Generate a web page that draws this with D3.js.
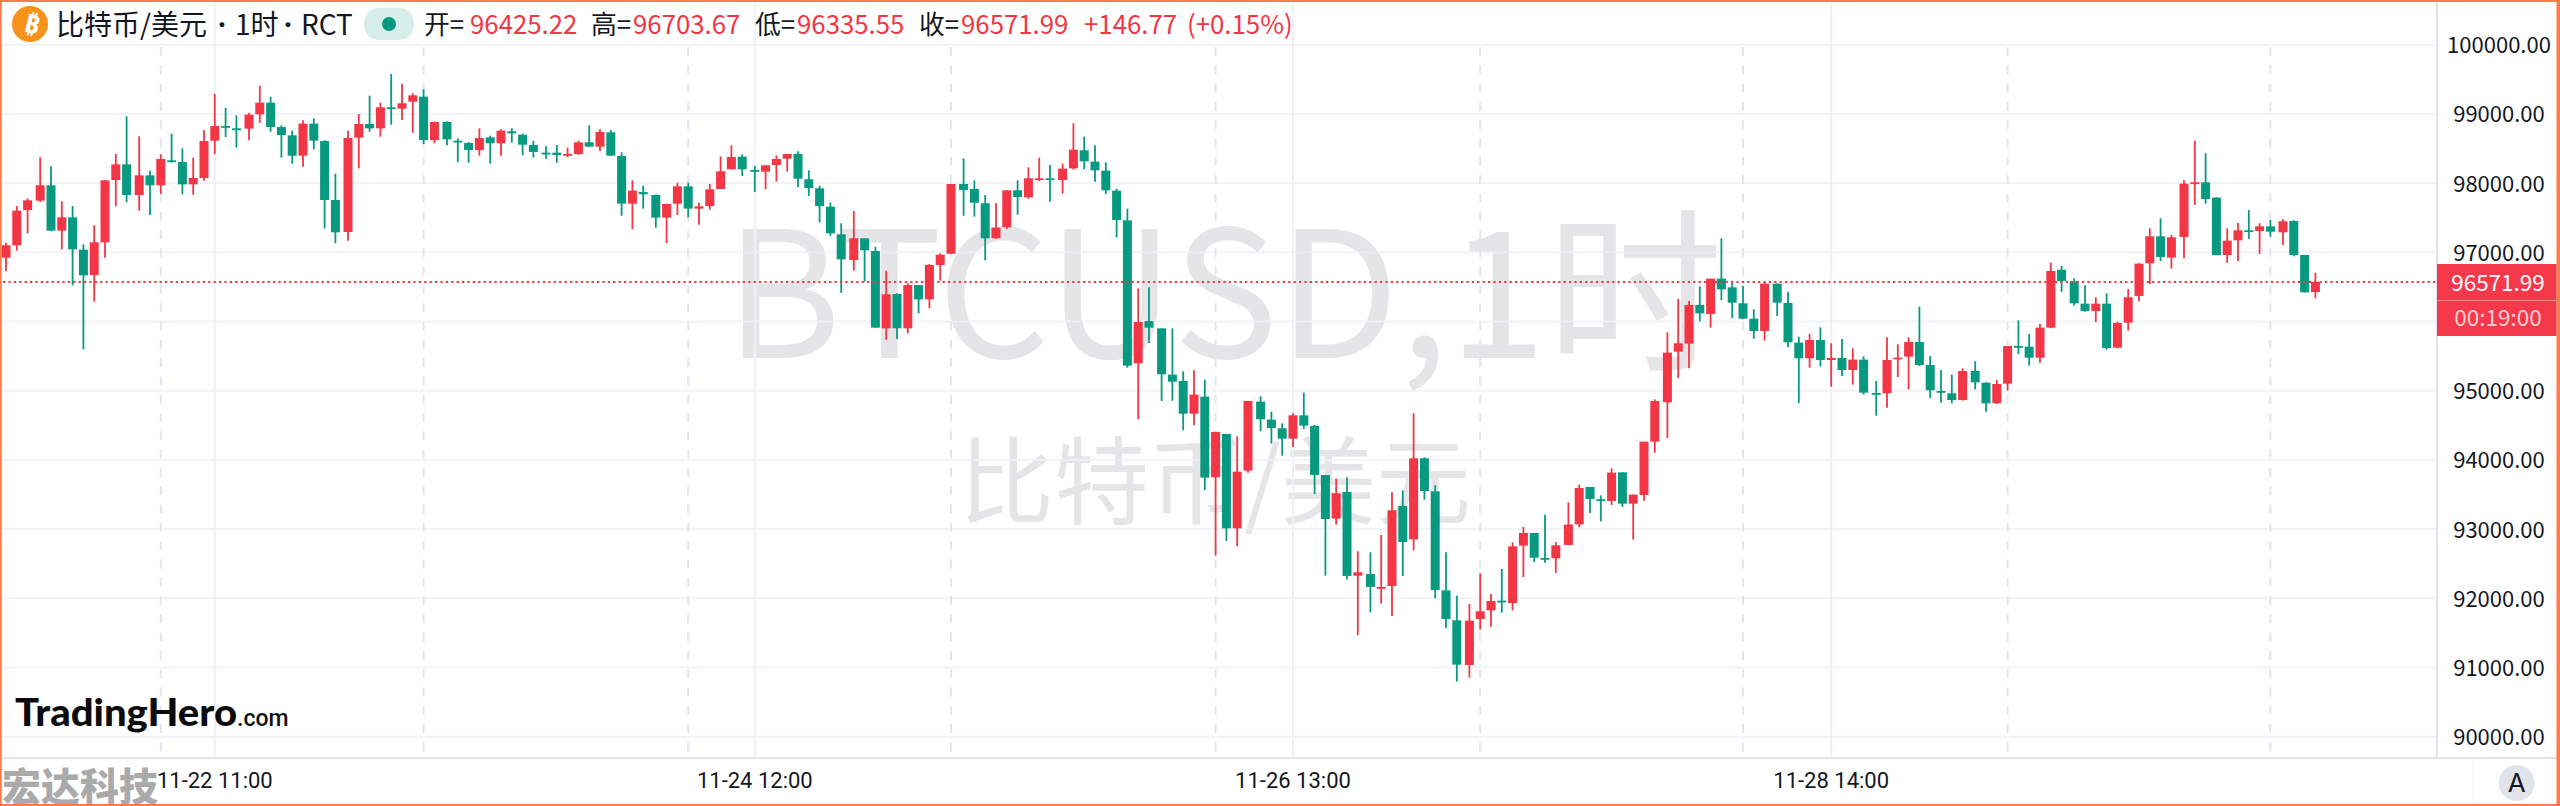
<!DOCTYPE html>
<html><head><meta charset="utf-8">
<script src="https://cdn.jsdelivr.net/npm/d3@7/dist/d3.min.js"></script>
<style>
html,body{margin:0;padding:0;background:#fff;overflow:hidden}
svg{display:block}
text{font-family:"Noto Sans CJK SC","Noto Sans",sans-serif}
</style></head><body><svg id="c" width="2560" height="806"></svg>
<script>
const opens=[96922,97101,97611,97746,97968,97313,97505,97038,96672,97144,
98045,98271,97828,98112,97968,98329,98305,97982,98074,98613,
98825,98791,98787,98994,99162,98811,98690,98396,98859,98608,
97756,97293,98657,98854,98791,99095,99076,99177,99249,98623,
98883,98613,98580,98478,98661,98575,98748,98700,98551,98440,
98440,98397,98421,98589,98527,98734,98392,97703,97871,97828,
97501,97703,97953,97631,97669,97915,98199,98382,98189,98165,
98262,98353,98421,98055,97924,97660,97260,96889,97202,97019,
95901,96397,95901,96527,96320,96817,96980,97987,97915,97708,
97202,97361,97896,97794,98050,98069,98045,98213,98474,98310,
98180,97891,97462,95396,96007,95901,95232,95141,94668,94914,
93748,94375,93011,93845,94842,94582,94457,94307,94644,94490,
93782,93151,93536,92327,92351,92144,92178,93334,92852,94023,
93546,92115,91682,91036,91701,91826,91966,91932,92761,92944,
92583,92578,92771,93069,93609,93431,93406,93820,93368,93493,
94264,94832,95564,95680,96239,96109,96619,96494,96263,96041,
95863,96547,96268,95694,95468,95733,95444,95473,95299,95449,
94967,94962,95453,95492,95704,95372,94996,94962,94866,95285,
95116,94818,95102,95646,95636,95477,95911,96749,96581,96258,
96152,96258,95622,95983,96369,96841,97231,96923,97221,97997,
98011,97790,96961,97173,97318,97308,97375,97289,97452,96961,96425.22];
const closes=[97101,97602,97751,97968,97313,97505,97043,96667,97144,98040,
98271,97828,98112,97968,98348,98310,97982,98074,98608,98825,
98801,98772,98989,99162,98811,98695,98396,98859,98613,97756,
97289,98652,98854,98791,99095,99076,99153,99268,98623,98883,
98632,98589,98478,98652,98575,98758,98719,98555,98450,98421,
98406,98421,98589,98527,98739,98397,97703,97891,97838,97501,
97698,97953,97631,97664,97910,98170,98377,98199,98165,98257,
98348,98421,98064,97929,97669,97274,96898,97202,97029,95911,
96393,95901,96527,96320,96817,96966,97987,97900,97717,97202,
97356,97896,97799,98069,98069,98045,98209,98483,98315,98185,
97896,97467,95362,95993,95911,95237,95131,94668,94943,93744,
94404,93011,93830,94852,94587,94461,94307,94644,94495,93782,
93146,93517,92323,92376,92164,92164,93272,92814,94023,93551,
92120,91701,91041,91677,91812,91961,91947,92751,92944,92587,
92563,92766,93065,93594,93435,93407,93816,93368,93498,94264,
94851,95550,95685,96239,96118,96619,96465,96272,96041,95863,
96547,96272,95699,95468,95733,95444,95473,95299,95449,94972,
94948,95444,95478,95704,95372,95006,94977,94866,95285,95121,
94818,95097,95646,95627,95477,95911,96730,96585,96263,96152,
96258,95617,95978,96349,96836,97231,96932,97216,97992,98011,
97770,96961,97168,97318,97298,97375,97298,97448,96961,96422,96571.99];
const highs=[97139,97669,97780,98372,98242,97737,97669,97115,97390,98040,
98421,98965,98676,98180,98416,98714,98502,98368,98763,99288,
99090,98979,99018,99408,99249,98835,98758,98907,98936,98618,
98136,98758,98999,99264,99162,99577,99437,99297,99355,98888,
98893,98647,98594,98791,98685,98777,98792,98714,98613,98531,
98551,98512,98613,98835,98777,98767,98445,98040,97963,97833,
97703,98006,98006,97717,97987,98387,98546,98416,98247,98257,
98401,98421,98459,98185,97963,97722,97419,97597,97202,97081,
96735,96407,96552,96527,96831,96985,97987,98358,98040,97828,
97708,97896,98040,98228,98368,98262,98281,98864,98671,98546,
98300,97920,97631,96479,96494,95901,95901,95280,95295,95160,
94408,94375,94341,94852,94919,94697,94529,94673,94972,94505,
93782,93729,93748,92679,92665,92915,93532,93561,94673,94037,
93633,92665,92038,91918,92361,92062,92424,92809,93031,92944,
93209,92814,93387,93643,93609,93488,93878,93820,93498,94264,
94875,95844,96325,96296,96508,96619,97202,96585,96513,96176,
96576,96552,96431,95781,95824,95916,95685,95747,95612,95497,
95140,95771,95670,95771,96215,95502,95299,95232,95323,95425,
95121,95155,95646,96017,95819,95964,96850,96802,96624,96523,
96349,96407,95998,96470,96841,97346,97491,97250,98040,98613,
98430,97799,97346,97424,97611,97419,97467,97477,97462,96961,96703.67];
const lows=[96725,97024,97274,97727,97303,97043,96523,95598,96287,96922,
97664,97722,97602,97539,97843,98300,97838,97833,98035,98421,
98666,98512,98618,98869,98743,98368,98281,98237,98488,97346,
97130,97168,98213,98743,98671,98844,98912,98729,98565,98575,
98546,98305,98295,98396,98281,98397,98584,98401,98368,98353,
98295,98372,98406,98527,98459,98397,97529,97332,97631,97356,
97134,97539,97505,97399,97616,97915,98199,98103,97871,97910,
98021,98165,97939,97814,97433,97236,96412,96735,96576,95911,
95738,95747,95829,96118,96190,96590,96980,97529,97515,96884,
97197,97337,97544,97775,98030,97732,97847,98194,98199,98021,
97843,97216,95333,94587,95689,94852,94856,94428,94500,93565,
92616,92828,92751,93816,94413,94235,94062,94187,94447,93508,
92327,93064,92270,91470,91798,91923,91745,92323,92693,93426,
92000,91566,90796,90853,91547,91590,91793,91826,92308,92525,
92515,92366,92771,93026,93233,93113,93348,93320,92848,93411,
94105,94317,95184,95323,96003,95911,96311,96051,96032,95752,
95723,96080,95627,94822,95333,95352,95058,95213,95087,94943,
94639,94755,95198,95020,95357,94895,94827,94818,94856,95020,
94697,94808,95001,95530,95362,95405,95901,96431,96229,96142,
95993,95593,95612,95868,96292,96542,96874,96764,96913,97684,
97703,96956,96850,96874,97192,96976,97226,97106,96942,96417,96335.55];

const priceTicks=[90000,91000,92000,93000,94000,95000,96000,97000,98000,99000,100000];
const timeTickIdx=[19,68,117,166];
const timeTickLabels=["11-22 11:00","11-24 12:00","11-26 13:00","11-28 14:00"];
const dayLineIdx=[14,38,62,86,110,134,158,182,206];
const lastPrice=96571.99, countdown="00:19:00";
const titleParts=[["比特币/美元",56],["·",218],["1时",235],["·",284],["RCT",301]];
const legend=[["开=","96425.22",424,471],["高=","96703.67",591,634],["低=","96335.55",755,798],["收=","96571.99",919,962]];

const UP="#F23645",DOWN="#089981",GRID="#eff1f8",AXIS="#e0e3eb",BORDER="#FF7A4D";
const W=2560,H=806,axisX=2437,axisY=758;
const y=d3.scaleLinear().domain([90000,100000]).range([736.7,44.7]);
// the source was rendered on a coarse pixel grid, then enlarged 1.8x
const xGrid=d3.scaleLinear().domain([0,1]).range([0.71,6.818]);
const x=i=>6+1.8*Math.floor(xGrid(i));
const svg=d3.select("#c");
svg.append("rect").attr("width",W).attr("height",H).attr("fill","#fff");

// watermark
const wm=svg.append("g").attr("fill","#e5e5e8");
wm.append("text").attr("x",1224).attr("y",358).attr("text-anchor","middle")
  .attr("font-size",176.5).style("font-family",'"Noto Sans CJK SC"').attr("font-weight",400).text("BTCUSD,1时");
wm.append("text").attr("x",1215).attr("y",517).attr("text-anchor","middle")
  .attr("font-size",95).style("font-family",'"Noto Sans CJK SC"').attr("font-weight",400).text("比特币/美元");

// grid
const grid=svg.append("g");
grid.selectAll("line.h").data(priceTicks).join("line").attr("class","h")
  .attr("x1",2).attr("x2",axisX).attr("y1",d=>y(d)).attr("y2",d=>y(d))
  .attr("stroke",GRID).attr("stroke-width",2).attr("opacity",.85);
grid.selectAll("line.v").data(timeTickIdx).join("line").attr("class","v")
  .attr("x1",x).attr("x2",x).attr("y1",2).attr("y2",axisY)
  .attr("stroke",GRID).attr("stroke-width",2);
grid.selectAll("line.d").data(dayLineIdx).join("line").attr("class","d")
  .attr("x1",x).attr("x2",x).attr("y1",47).attr("y2",axisY)
  .attr("stroke","#e2e5ee").attr("stroke-width",2).attr("stroke-dasharray","9 9.3");

// candles
const idx=d3.range(opens.length);
const colour=i=>closes[i]>=opens[i]?UP:DOWN;
const c=svg.append("g");
c.selectAll("line").data(idx).join("line")
  .attr("x1",x).attr("x2",x).attr("y1",i=>y(highs[i])).attr("y2",i=>y(lows[i]))
  .attr("stroke",colour).attr("stroke-width",1.8);
c.selectAll("rect").data(idx).join("rect")
  .attr("x",i=>x(i)-4.5).attr("width",9)
  .attr("y",i=>y(Math.max(opens[i],closes[i])))
  .attr("height",i=>Math.max(1.8,Math.abs(y(opens[i])-y(closes[i]))))
  .attr("fill",colour);

// last price line
svg.append("line").attr("x1",3).attr("x2",axisX).attr("y1",y(lastPrice)).attr("y2",y(lastPrice))
  .attr("stroke",UP).attr("stroke-width",2).attr("stroke-dasharray","2.2 3.2");

// axes
svg.append("rect").attr("x",axisX+1).attr("y",2).attr("width",W-axisX-1).attr("height",H-2).attr("fill","#fff");
svg.append("rect").attr("x",2).attr("y",axisY).attr("width",W).attr("height",H-axisY).attr("fill","#fff");
const yAxis=svg.append("g").attr("transform",`translate(2499,1)`)
  .call(d3.axisRight(y).tickValues(priceTicks).tickSize(0).tickFormat(d=>d.toFixed(2)));
yAxis.select(".domain").remove();
yAxis.selectAll("text").attr("x",0).attr("text-anchor","middle").attr("font-size",22).attr("fill","#131722")
  .style("font-family",'"Noto Sans CJK SC"');
const xAxis=svg.append("g").attr("transform",`translate(0,${axisY})`)
  .call(d3.axisBottom(d3.scaleLinear().domain([0,1]).range([x(0),x(1)])).tickValues(timeTickIdx).tickSize(0)
    .tickFormat((d,i)=>timeTickLabels[i]));
xAxis.select(".domain").remove();
xAxis.selectAll("g.tick").attr("transform",d=>`translate(${x(d)},0)`);
xAxis.selectAll("text").attr("y",14).attr("font-size",22).attr("fill","#131722").style("font-family","Roboto");
svg.append("line").attr("x1",axisX).attr("x2",axisX).attr("y1",2).attr("y2",axisY).attr("stroke",AXIS).attr("stroke-width",2);
svg.append("line").attr("x1",2).attr("x2",W).attr("y1",axisY).attr("y2",axisY).attr("stroke",AXIS).attr("stroke-width",2);
svg.append("line").attr("x1",2473).attr("x2",2473).attr("y1",axisY).attr("y2",H).attr("stroke","#f3f4f8").attr("stroke-width",1);

// price tag
svg.append("rect").attr("x",axisX).attr("y",264).attr("width",2556.5-axisX).attr("height",72).attr("fill","#F5394B");
svg.append("line").attr("x1",axisX).attr("x2",2556).attr("y1",300.5).attr("y2",300.5).attr("stroke","#f9808b").attr("stroke-width",1);
svg.append("text").attr("x",2498).attr("y",290.5).attr("text-anchor","middle").attr("font-size",22.5).attr("fill","#fff").text(lastPrice.toFixed(2));
svg.append("text").attr("x",2498).attr("y",326).attr("text-anchor","middle").attr("font-size",22.5).attr("fill","#fcd0d5").text(countdown);

// auto button
svg.append("circle").attr("cx",2516.7).attr("cy",783).attr("r",18).attr("fill","#e0e3eb");
svg.append("text").attr("x",2516.7).attr("y",792).attr("text-anchor","middle").attr("font-size",26).attr("fill","#131722").style("font-family","Inter").text("A");

// header
svg.append("circle").attr("cx",30).attr("cy",24).attr("r",18).attr("fill","#F7931A");
svg.append("text").attr("transform","translate(30,33) rotate(14)").attr("text-anchor","middle").attr("font-size",26)
  .attr("font-weight",700).attr("fill","#fff").style("font-family",'"Noto Sans"').text("₿");
titleParts.forEach(([t,px])=>{
  const el=svg.append("text").attr("x",px).attr("y",35).attr("font-size",28).attr("fill","#131722").text(t);
  if(t==="·") el.style("font-family",'"Noto Sans"').attr("font-weight",700);
});
svg.append("rect").attr("x",364).attr("y",8).attr("width",50).attr("height",32).attr("rx",15).attr("fill","#d6eee8");
svg.append("circle").attr("cx",389).attr("cy",24).attr("r",7).attr("fill",DOWN);
const lg=svg.append("g").attr("font-size",25.8);
legend.forEach(([k,v,a,b])=>{
  lg.append("text").attr("x",a).attr("y",34).attr("fill","#131722").text(k);
  lg.append("text").attr("x",b-1).attr("y",34).attr("fill",UP).text(v);
});
lg.append("text").attr("x",1084).attr("y",34).attr("fill",UP).text("+146.77");
lg.append("text").attr("x",1187).attr("y",34).attr("fill",UP).text("(+0.15%)");

// logo
svg.append("text").attr("x",15).attr("y",726).attr("font-size",37).attr("font-weight",900).attr("fill","#0b0b0b")
  .style("font-family","Lato").attr("textLength",222).attr("lengthAdjust","spacingAndGlyphs").text("TradingHero");
svg.append("text").attr("x",237).attr("y",726).attr("font-size",23).attr("font-weight",500).attr("fill","#111")
  .style("font-family","Roboto").text(".com");
// stamp
svg.append("text").attr("x",2).attr("y",801).attr("font-size",39).attr("font-weight",900).attr("fill","#aaaaaa").text("宏达科技");
// frame
svg.append("rect").attr("x",.75).attr("y",1).attr("width",W-2.5).attr("height",H-2).attr("fill","none").attr("stroke",BORDER).attr("stroke-width",2);
svg.append("rect").attr("x",W-3.5).attr("y",0).attr("width",3.5).attr("height",H).attr("fill",BORDER);
</script></body></html>
